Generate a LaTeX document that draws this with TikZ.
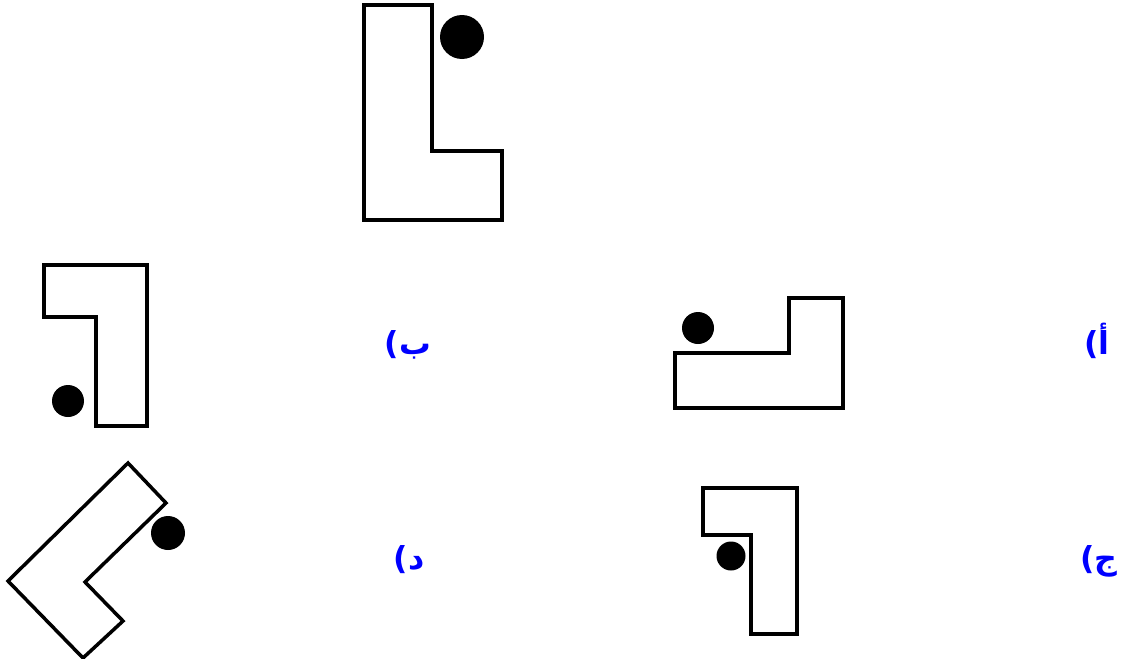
\documentclass[tikz,border=0pt]{standalone}
\usepackage{fontspec}
\newfontfamily\arabicfont[Script=Arabic]{DejaVu Sans}
\TeXXeTstate=1
\usepackage{tikz}

\begin{document}
\begin{tikzpicture}[
    x=0.02cm,
    y=-0.02cm,
    line join=miter,
    outline/.style={
        draw=black,
        line width=2pt
    },
    dot/.style={
        fill=black
    },
    choice/.style={
        anchor=base,
        inner sep=0pt,
        text=blue,
        font=\arabicfont\bfseries\fontsize{18}{20}\selectfont
    }
]

% Frame of the picture
\useasboundingbox (0,0) rectangle (1126,659);

% Given shape
\draw[outline, line width=2.3pt] (364,5) -- (432,5) -- (432,151) -- (502,151)
    -- (502,220) -- (364,220) -- cycle;
\fill[dot] (462,37) circle (22);

% Option b
\draw[outline] (44,265) -- (147,265) -- (147,426) -- (96,426)
    -- (96,317) -- (44,317) -- cycle;
\fill[dot] (68,401) circle (16);
\node[choice] (labelB) at (408,354) {\beginR ب)\endR};

% Option a
\draw[outline] (675,353) -- (789,353) -- (789,298) -- (843,298)
    -- (843,408) -- (675,408) -- cycle;
\fill[dot] (698,328) circle (16);
\node[choice] (labelA) at (1097,354) {\beginR أ)\endR};

% Option d
\draw[outline] (128,463) -- (166,503) -- (85,582) -- (123,621)
    -- (83,658) -- (8,581) -- cycle;
\fill[dot] (168,533) circle (17);
\node[choice] (labelD) at (409,569) {\beginR د)\endR};

% Option c
\draw[outline] (703,488) -- (797,488) -- (797,634) -- (751,634)
    -- (751,535) -- (703,535) -- cycle;
\fill[dot] (731,556) circle (14.5);
\node[choice] (labelC) at (1099,569) {\beginR ج)\endR};

\end{tikzpicture}
\end{document}
